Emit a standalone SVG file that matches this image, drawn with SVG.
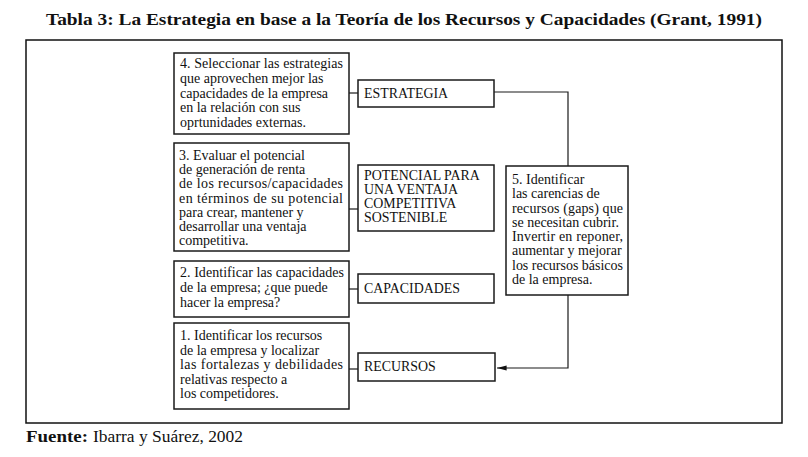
<svg xmlns="http://www.w3.org/2000/svg" width="808" height="457" viewBox="0 0 808 457">
<style>
.box{fill:#fff;stroke:#1a1a1a;stroke-width:1.5}
.t{font-family:"Liberation Serif","Times New Roman",serif;font-size:14px;fill:#111}
.k{font-family:"Liberation Serif","Times New Roman",serif;font-size:13.9px;fill:#111}
.f{font-family:"Liberation Serif","Times New Roman",serif;font-size:14px;fill:#111}
.c{stroke:#1a1a1a;stroke-width:1.2;fill:none}
</style>
<defs>
<marker id="ah" viewBox="0 0 12 10" refX="12" refY="5" markerWidth="13" markerHeight="8" markerUnits="userSpaceOnUse" orient="auto">
<path d="M0,2 L12,5 L0,8 Z" fill="#111"/>
</marker>
</defs>
<rect width="808" height="457" fill="#fff"/>
<text x="404" y="25" text-anchor="middle" font-family="Liberation Serif, serif" font-weight="bold" font-size="17" fill="#111" textLength="716" lengthAdjust="spacingAndGlyphs">Tabla 3: La Estrategia en base a la Teoría de los Recursos y Capacidades (Grant, 1991)</text>
<rect x="26" y="40" width="756" height="383" fill="none" stroke="#111" stroke-width="1.5"/>

<g id="connectors">
<line class="c" x1="349" y1="93" x2="358" y2="93"/>
<line class="c" x1="349" y1="209" x2="358" y2="209"/>
<line class="c" x1="349" y1="289" x2="358" y2="289"/>
<line class="c" x1="349" y1="369" x2="358" y2="369"/>
<polyline class="c" points="494,92 568,92 568,166"/>
<polyline class="c" points="568,295 568,368 497,368" marker-end="url(#ah)"/>
</g>

<g id="box4">
<rect class="box" x="174" y="53" width="175" height="81"/>
<text class="t" x="180" y="68" textLength="163" lengthAdjust="spacing">4. Seleccionar las estrategias</text>
<text class="t" x="180" y="83">que aprovechen mejor las</text>
<text class="t" x="180" y="98">capacidades de la empresa</text>
<text class="t" x="180" y="112">en la relación con sus</text>
<text class="t" x="180" y="127">oprtunidades externas.</text>
</g>
<g id="estrategia">
<rect class="box" x="358" y="80" width="136" height="27"/>
<text class="k" x="364" y="98">ESTRATEGIA</text>
</g>

<g id="box3">
<rect class="box" x="174" y="143" width="175" height="108"/>
<text class="t" x="179" y="160">3. Evaluar el potencial</text>
<text class="t" x="179" y="174">de generación de renta</text>
<text class="t" x="179" y="188" textLength="164" lengthAdjust="spacing">de los recursos/capacidades</text>
<text class="t" x="179" y="203" textLength="164" lengthAdjust="spacing">en términos de su potencial</text>
<text class="t" x="179" y="217">para crear, mantener y</text>
<text class="t" x="179" y="231">desarrollar una ventaja</text>
<text class="t" x="179" y="245">competitiva.</text>
</g>
<g id="potencial">
<rect class="box" x="358" y="165" width="136" height="66"/>
<text class="k" x="364" y="180">POTENCIAL PARA</text>
<text class="k" x="364" y="194">UNA VENTAJA</text>
<text class="k" x="364" y="208">COMPETITIVA</text>
<text class="k" x="364" y="222">SOSTENIBLE</text>
</g>

<g id="box5">
<rect class="box" x="506" y="166" width="122" height="129"/>
<text class="f" x="512" y="184">5. Identificar</text>
<text class="f" x="512" y="198">las carencias de</text>
<text class="f" x="512" y="213" textLength="111" lengthAdjust="spacing">recursos (gaps) que</text>
<text class="f" x="512" y="227">se necesitan cubrir.</text>
<text class="f" x="512" y="241" textLength="111" lengthAdjust="spacing">Invertir en reponer,</text>
<text class="f" x="512" y="255">aumentar y mejorar</text>
<text class="f" x="512" y="270" textLength="111" lengthAdjust="spacing">los recursos básicos</text>
<text class="f" x="512" y="284">de la empresa.</text>
</g>

<g id="box2">
<rect class="box" x="174" y="261" width="175" height="56"/>
<text class="t" x="180" y="277" textLength="164" lengthAdjust="spacing">2. Identificar las capacidades</text>
<text class="t" x="180" y="292">de la empresa; ¿que puede</text>
<text class="t" x="180" y="307">hacer la empresa?</text>
</g>
<g id="capacidades">
<rect class="box" x="358" y="274" width="136" height="29"/>
<text class="k" x="364" y="293">CAPACIDADES</text>
</g>

<g id="box1">
<rect class="box" x="174" y="323" width="175" height="86"/>
<text class="t" x="180" y="340">1. Identificar los recursos</text>
<text class="t" x="180" y="355">de la empresa y localizar</text>
<text class="t" x="180" y="369" textLength="163" lengthAdjust="spacing">las fortalezas y debilidades</text>
<text class="t" x="180" y="384">relativas respecto a</text>
<text class="t" x="180" y="398">los competidores.</text>
</g>
<g id="recursos">
<rect class="box" x="358" y="353" width="137" height="28"/>
<text class="k" x="364" y="371">RECURSOS</text>
</g>

<text y="442" font-family="Liberation Serif, serif" font-size="16" fill="#111"><tspan x="26" font-weight="bold" textLength="62" lengthAdjust="spacingAndGlyphs">Fuente:</tspan><tspan x="93" textLength="150" lengthAdjust="spacingAndGlyphs">Ibarra y Suárez, 2002</tspan></text>
</svg>
